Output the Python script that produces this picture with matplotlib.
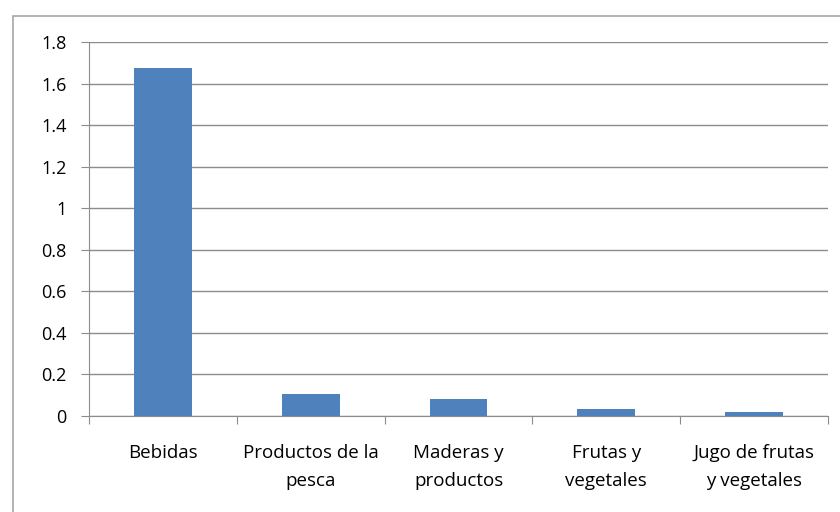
import matplotlib
matplotlib.use("Agg")
import matplotlib.pyplot as plt
from matplotlib.patches import Rectangle

categorias = ["Bebidas", "Productos de la\npesca", "Maderas y\nproductos",
              "Frutas y\nvegetales", "Jugo de frutas\ny vegetales"]
valores = [1.675, 0.105, 0.082, 0.033, 0.018]
yticks = [0, 0.2, 0.4, 0.6, 0.8, 1, 1.2, 1.4, 1.6, 1.8]
ylabels = ["0", "0.2", "0.4", "0.6", "0.8", "1", "1.2", "1.4", "1.6", "1.8"]

plt.rcParams['font.family'] = ['Open Sans', 'DejaVu Sans']

W, H = 840, 512
fig = plt.figure(figsize=(W / 100, H / 100), dpi=100)

# outer chart border (runs off the right/bottom edge)
fig.patches.append(Rectangle((13 / W, -0.1), 1.2, (512 - 16) / H + 0.1,
                             transform=fig.transFigure, fill=False,
                             edgecolor='#a6a6a6', linewidth=1.2))

ax = fig.add_axes([89 / W, (512 - 416) / H, (828 - 89) / W, (416 - 42) / H])

x = range(len(categorias))
ax.bar(x, valores, width=0.39, color='#4f81bd', zorder=3)

ax.set_xlim(-0.5, len(categorias) - 0.5)
ax.set_ylim(0, 1.8)
ax.set_yticks(yticks)
ax.set_yticklabels(ylabels, fontsize=13)
ax.yaxis.grid(True, color='#8c8c8c', linewidth=1.0, zorder=0)

ax.set_xticks([i + 0.5 for i in range(-1, len(categorias))])
ax.set_xticklabels([])
ax.set_xticks(list(x), minor=True)
ax.set_xticklabels(categorias, minor=True, fontsize=13.5, linespacing=1.7)
ax.tick_params(axis='x', which='minor', length=0, pad=20)
ax.tick_params(axis='x', which='major', length=6, color='#8c8c8c', direction='out')
ax.tick_params(axis='y', length=6, color='#8c8c8c', pad=10)

for s in ['top', 'right']:
    ax.spines[s].set_visible(False)
ax.spines['left'].set_color('#8c8c8c')
ax.spines['bottom'].set_color('#8c8c8c')

fig.savefig("out.png", dpi=100)
